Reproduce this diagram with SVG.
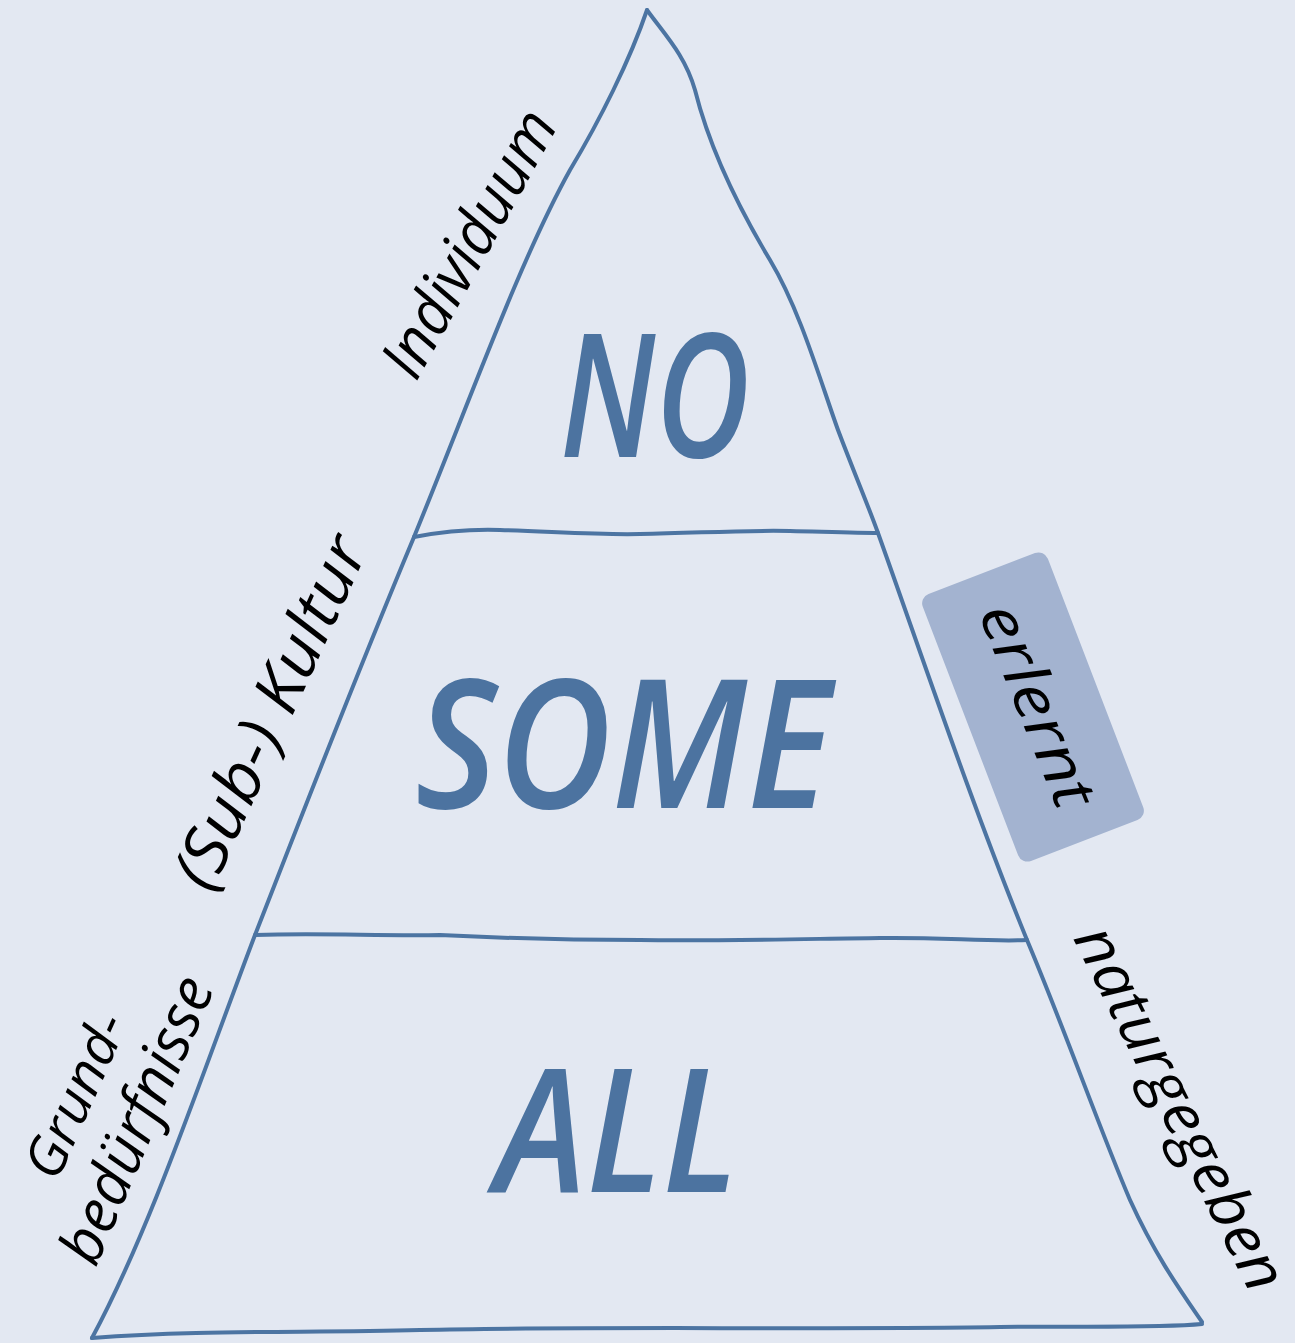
<svg xmlns="http://www.w3.org/2000/svg" width="1295" height="1343" viewBox="0 0 1295 1343">
<style>
.edge{fill:none;stroke:#4C74A2;stroke-width:4;stroke-linecap:round;stroke-linejoin:round}
.big{font-family:"Open Sans","Liberation Sans",sans-serif;font-style:italic;font-weight:600;fill:#4C73A0;text-anchor:middle}
.lbl{font-family:"Open Sans","Liberation Sans",sans-serif;font-style:italic;fill:#000;text-anchor:middle}
</style>
<rect x="0" y="0" width="1295" height="1343" fill="#E3E8F2"/>
<g id="connectors">
<path class="edge" d="M647,10 C630,60 600,120 570,170 C520,260 470,400 414,537 C350,690 300,820 255,935 C200,1080 150,1230 92,1338"/>
<path class="edge" d="M647,10 C665,35 685,55 695,90 C710,150 740,210 770,260 C800,310 820,380 838,430 C855,475 868,505 878,533 C920,650 970,800 1027,940 C1065,1030 1100,1130 1130,1200 C1155,1255 1180,1290 1202,1322"/>
<path class="edge" d="M92,1338 C200,1330 300,1333 420,1330 C600,1326 800,1330 1000,1327 C1100,1326 1160,1328 1202,1324"/>
<path class="edge" d="M414,537 C440,532 470,529 500,530 C560,532 600,535 640,534 C700,533 740,530 790,531 C830,532 860,533 878,533"/>
<path class="edge" d="M255,935 C320,933 380,936 440,935 C500,938 560,940 640,940 C720,941 800,939 880,938 C940,937 990,942 1027,940"/>
</g>
<g id="box-erlernt">
<rect x="-67" y="-143" width="134" height="286" rx="10" fill="#A3B3D0" transform="translate(1033,707) rotate(-21)"/>
<text class="lbl" font-size="60" textLength="215" lengthAdjust="spacingAndGlyphs" transform="translate(1035,706) rotate(68)" x="0" y="18">erlernt</text>
</g>
<g id="level-no"><text class="big" x="655" y="457" font-size="172" textLength="190" lengthAdjust="spacingAndGlyphs">NO</text></g>
<g id="level-some"><text class="big" x="623" y="808" font-size="180" textLength="415" lengthAdjust="spacingAndGlyphs">SOME</text></g>
<g id="level-all"><text class="big" x="617" y="1192" font-size="172" textLength="243" lengthAdjust="spacingAndGlyphs">ALL</text></g>
<g id="label-individuum"><text class="lbl" font-size="62" textLength="295" lengthAdjust="spacingAndGlyphs" transform="translate(470,244) rotate(-61)" x="0" y="20">Individuum</text></g>
<g id="label-kultur"><text class="lbl" font-size="64" textLength="380" lengthAdjust="spacingAndGlyphs" transform="translate(270,712) rotate(-65.5)" x="0" y="22">(Sub-) Kultur</text></g>
<g id="label-grund">
<text class="lbl" font-size="54" textLength="175" lengthAdjust="spacingAndGlyphs" transform="translate(77,1096) rotate(-66)" x="0" y="17">Grund-</text>
<text class="lbl" font-size="60" textLength="305" lengthAdjust="spacingAndGlyphs" transform="translate(137,1120) rotate(-67)" x="0" y="20">bedürfnisse</text>
</g>
<g id="label-naturgegeben"><text class="lbl" font-size="60" textLength="400" lengthAdjust="spacingAndGlyphs" transform="translate(1180,1108) rotate(63.5)" x="0" y="20">naturgegeben</text></g>
</svg>
